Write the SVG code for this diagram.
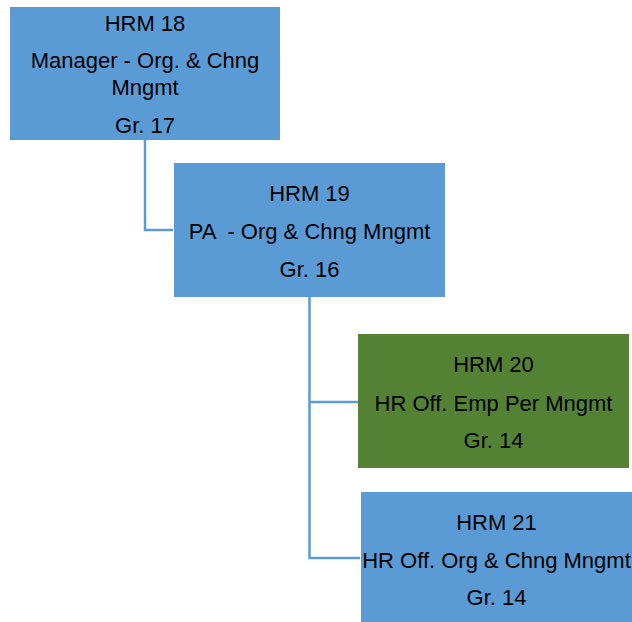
<svg xmlns="http://www.w3.org/2000/svg" width="632" height="622" viewBox="0 0 632 622">
<style>
.blue{fill:#5B9BD5}
.green{fill:#548235}
.t{font-family:"Liberation Sans",Arial,sans-serif;font-size:22px;fill:#000;text-anchor:middle}
.c{fill:none;stroke:#5B9BD5;stroke-width:2.5}
</style>
<rect width="632" height="622" fill="#fff"/>
<g id="connectors">
<path class="c" d="M145,140 V230 H173"/>
<path class="c" d="M309.5,297 V558 H360"/>
<path class="c" d="M309.5,402 H358"/>
</g>
<g id="hrm18">
<rect class="blue" x="10" y="7" width="270" height="133"/>
<text class="t" x="145" y="31">HRM 18</text>
<text class="t" x="145" y="68">Manager - Org. &amp; Chng</text>
<text class="t" x="145" y="95">Mngmt</text>
<text class="t" x="145" y="133">Gr. 17</text>
</g>
<g id="hrm19">
<rect class="blue" x="174" y="163" width="271" height="134"/>
<text class="t" x="309.5" y="201">HRM 19</text>
<text class="t" x="309.5" y="239" xml:space="preserve">PA  - Org &amp; Chng Mngmt</text>
<text class="t" x="309.5" y="277">Gr. 16</text>
</g>
<g id="hrm20">
<rect class="green" x="358" y="334" width="271" height="134"/>
<text class="t" x="493.5" y="372">HRM 20</text>
<text class="t" x="493.5" y="411">HR Off. Emp Per Mngmt</text>
<text class="t" x="493.5" y="448">Gr. 14</text>
</g>
<g id="hrm21">
<rect class="blue" x="361" y="492" width="271" height="130"/>
<text class="t" x="496.5" y="530">HRM 21</text>
<text class="t" x="496.5" y="568">HR Off. Org &amp; Chng Mngmt</text>
<text class="t" x="496.5" y="605">Gr. 14</text>
</g>
</svg>
